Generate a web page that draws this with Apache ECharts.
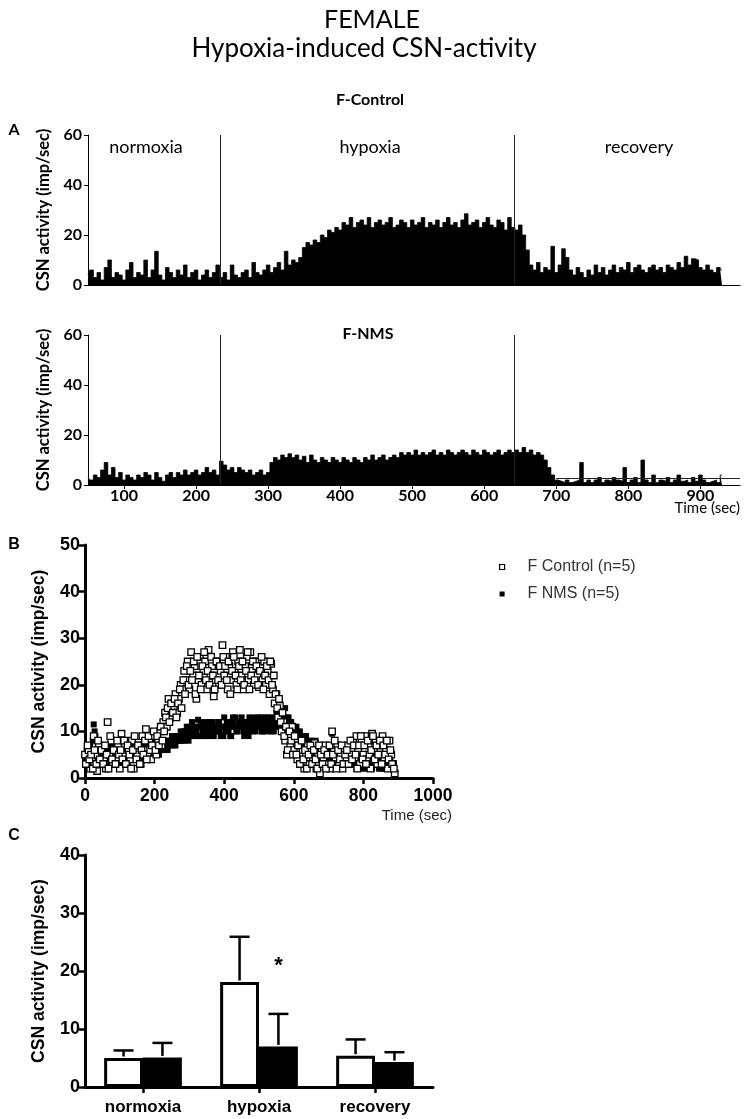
<!DOCTYPE html>
<html><head><meta charset="utf-8">
<script src="https://cdn.jsdelivr.net/npm/echarts@6/dist/echarts.min.js"></script>
<style>html,body{margin:0;padding:0;background:#fff;}#c{width:744px;height:1119px;}</style>
</head><body><div id="c"></div>
<script>
// ---------- Panel A: raw traces (imp/sec), sampled every 5 s from t = 50 s ----------
const traceStart = 50, traceStep = 5;
const controlTrace = [
 4,6,3,5,2,7,10,3,5,4,
 2,6,9,3,5,4,10,3,6,13.5,
 4,2,7,5,3,6,4,8,3,5,
 6,2,4,6,3,5,8,3,5,2,
 8,4,3,5,6,3,9,5,4,6,
 8,5,7,9,6,13.5,8,10,9,11,
 15,17,16,18,17,20,19,22,21,23,
 22,25,24,27,23,25,26,24,27,23,
 25,26,24,25,27,23,24,26,25,23,
 26,24,25,27,23,25,24,26,23,25,
 27,24,25,23,26,28.5,24,25,26,23,
 25,27,24,23,26,25,22,27,23,22,
 24,20,14,8,6,9,5,7,6,15.5,
 5,8,14.5,11,6,4,7,5,3,6,
 4,8,5,7,4,6,8,5,7,6,
 9,5,7,8,6,5,7,8,6,7,
 5,8,7,6,9,7,11.5,8,10.5,10,
 7,6,8,6,5,7,6
];
const nmsTrace = [
 3,2,4,3,6,9,4,7,3,5,
 2,4,3,2,4,3,5,4,2,5,
 3,1.5,4,5,3,5,4,6,4,5,
 6,4,5,7,5,6,4,9.5,8,6,
 7,5,7,6,5,6,4,5,6,4,
 5,9,11,10,12,11,12.5,11,12,10,
 11.5,9,12,10,9,11,10,9,11,10,
 9,11,10,9,11,10,9,11,10,12,
 10,11,12,10,11,12,11,13,12,13,
 12,14,12,13,12,13,14,12,13,12,
 14,13,12,13,14,13,12,14,13,12,
 14,13,12,13,14,12,13,14,13,14,
 13,15,13,14,12,13,12,10,7,4,
 2,1.5,1,2,1,1.5,2,9,1,2,
 1,2,3,1,2,1.5,3,2,1.5,7,
 1,2,3,1,10,2,1,4,1,2,
 1.5,3,1,2,4,1.5,2,1,3,1.5,
 4,2,1,1.5,2,1,4
];
const phaseNames = ['normoxia', 'hypoxia', 'recovery'];
const phaseBoundaries = [233, 642];           // s
const nmsBaselineLevel = 2.9;                  // horizontal line in F-NMS trace
const nmsBaselineRange = [700, 955];
const traceTickValues = [100, 200, 300, 400, 500, 600, 700, 800, 900];

// ---------- Panel B: averaged activity ----------
// samples at t = 0, 5, 10 ... s
const scatterStart = 0, scatterStep = 5;
const controlMean = [
 5,3,6,2,4,9,5,1.5,7,3,
 6,4,2,12,5,8,3,6,4,7,
 2,9.5,5,7,3,6,4,8,2,6,
 5,7,3,9,6,10.5,5,8,4,7,
 9,5,8,10,7,12,14,11,17,13,
 16,15,18,14,17,20,19,23,21,25,
 19,27,22,24,17,21,26,20,23,25,
 19,27.5,22,24,17.5,21,25,20,23,28.5,
 22,26,19,24,21,27,23,20,25,27.5,
 22,19,24,26,21,27,23,20,25,22,
 19.5,24,21,25,20,23,18,24.5,19,16,
 18,13,15.5,10,12,8,5,9,7,11,
 6,8,4,7,3,6,2,5,7,3,
 6,4,7.5,2,5,1,6,4,7,3,
 5,2,10,6,4,7,3,5,2,6,
 4,7,3,5,8,4,9,6,3,8,
 5,9,4,7,2,9.5,6,8,3,7,
 5,9,4,6,2,8,5,3,1
];
const nmsMean = [
 4,6,3,7,5,11.5,9,4,6,3,
 5,7,4,6,3,5,7,4,6,5,
 3,6,7,4,5,6,4,7,5,6,
 4,7,5,6,5,7,6,5,7,6,
 5,7,6,7,6,8,7,6,8,7,
 9,8,7,9,8,10,9,8,10,9,
 11,10,9,11,10,12.5,9,11,10,12,
 9,11,10,12,9,11,10,12,9,11,
 13,10,12,11,9,13,11,10,12,11,
 13,10,12,11,9,12,11,13,10,12,
 11,13,10,12,11,13,12,10,12,11,
 14,12,11,13,12,15,11,13,12,10,
 11,9,10,8,9,7,8,9,7,6,
 8,6,7,5,6,4,5,7,4,5,
 6,4,9.5,5,3,5,4,3,5,4,
 3,5,4,3,5,4,2,4,5,3,
 4,2,5,3,4,2,4,3,5,2,
 4,3,2,4,3,2,3,2,1
];
// interleaved samples at t = 2.5, 7.5, 12.5 ... s
const scatterStart2 = 2.5;
const controlMean2 = [
 3,7,4,5,2,6,3,8,4,6,
 3,7,5,2,9,4,6,3,8,5,
 6,4,8,3,7,5,2,6,9,4,
 7,3,6,5,8,4,9,6,7,10,
 6,9,7,11,8,10,13,15,12,16,
 14,17,13,16,19,15,21,18,24,20,
 23,21,25,18,26,22,19,24,27,21,
 23,20,26,22,19,25,21,24,20,26,
 24,21,25,18,23,26,22,19,24,21,
 25,20,23,27,19,22,25,21,24,20,
 23,26,19,22,24,21,25,20,22,18,
 15,17,12,14,9,11,6,10,8,5,
 9,5,7,3,8,4,6,2,5,7,
 3,6,4,2,7,5,3,6,2,5,
 7,3,5,8,2,6,4,7,3,5,
 6,3,8,4,7,5,2,7,9,4,
 7,3,8,5,6,9,4,7,5,8,
 3,7,5,8,4,6,3,2
];
const nmsMean2 = [
 5,3,6,4,8,10,5,7,4,6,
 4,6,5,7,4,6,5,3,7,4,
 5,7,4,6,3,7,5,6,4,7,
 6,5,7,4,6,5,7,6,5,8,
 6,7,5,8,6,7,8,6,7,8,
 8,7,9,8,9,8,10,9,11,8,
 10,12,9,10,11,9,12,10,9,11,
 10,12,9,11,10,11,12,10,11,9,
 11,12,10,9,12,11,13,10,11,12,
 11,9,12,10,13,11,10,12,11,13,
 12,10,11,13,10,12,11,13,10,12,
 12,13,11,12,10,13,12,11,12,11,
 10,11,8,10,7,9,8,6,8,7,
 7,5,8,6,5,7,4,6,5,6,
 5,3,6,4,5,3,6,4,3,5,
 4,3,5,4,3,5,3,4,2,4,
 3,5,4,2,4,3,5,3,4,3,
 2,4,3,2,3,4,2,2
];
const seriesNames = ['F Control (n=5)', 'F NMS (n=5)'];

// ---------- Panel C: mean + SD ----------
const categories = ['normoxia', 'hypoxia', 'recovery'];
const controlBar = [5.0, 18.1, 5.4];
const controlErr = [1.3, 7.8, 2.8];
const nmsBar = [5.1, 7.0, 4.3];
const nmsErr = [2.5, 5.6, 1.7];
const significance = ['', '*', ''];

const toPairs = (arr, start, step) => arr.map((v, i) => [start + i * step, v]);

const calibri = 'Lato';
const arial = 'Liberation Sans';
const blk = '#000';

function traceYAxis(grid) {
  return {
    type: 'value', gridIndex: grid, min: 0, max: 60, interval: 20,
    axisLine: {show: true, lineStyle: {color: blk, width: 1}},
    axisTick: {show: true, length: 4, lineStyle: {color: blk, width: 1}},
    axisLabel: {fontFamily: calibri, fontWeight: 'bold', fontSize: 16, color: blk, margin: 6},
    splitLine: {show: false},
    name: 'CSN activity (imp/sec)', nameLocation: 'middle', nameGap: 33,
    nameTextStyle: {fontFamily: calibri, fontWeight: 'bold', fontSize: 16.5, color: blk}
  };
}
function boldAxisStyle() {
  return {
    axisLine: {show: true, lineStyle: {color: blk, width: 3}},
    axisTick: {show: true, length: 6, lineStyle: {color: blk, width: 2.5}},
    axisLabel: {fontFamily: arial, fontWeight: 'bold', fontSize: 18, color: blk, margin: 5},
    splitLine: {show: false}
  };
}

const option = {
  animation: false,
  backgroundColor: '#fff',
  grid: [
    {left: 88, right: 4, top: 135, height: 150},
    {left: 88, right: 4, top: 335, height: 150},
    {left: 85, width: 348, top: 545, height: 233},
    {left: 85, width: 348, top: 855, height: 232}
  ],
  xAxis: [
    {type: 'value', gridIndex: 0, min: 50, max: 955,
     axisLine: {show: true, lineStyle: {color: blk, width: 1}},
     axisTick: {show: false}, axisLabel: {show: false}, splitLine: {show: false}},
    {type: 'value', gridIndex: 1, min: 50, max: 955,
     axisLine: {show: true, lineStyle: {color: blk, width: 1}},
     axisTick: {show: true, length: 4, customValues: traceTickValues, lineStyle: {color: blk}},
     axisLabel: {customValues: traceTickValues, fontFamily: calibri, fontWeight: 'bold', fontSize: 16, color: blk, margin: 3},
     splitLine: {show: false}},
    Object.assign({type: 'value', gridIndex: 2, min: 0, max: 1000, interval: 200}, boldAxisStyle(),
      {axisLabel: {fontFamily: arial, fontWeight: 'bold', fontSize: 17.5, color: blk, margin: 9,
        formatter: function (v) { return String(v); }}}),
    Object.assign({type: 'category', gridIndex: 3, data: categories}, boldAxisStyle(),
      {axisTick: {show: true, alignWithLabel: true, length: 6, lineStyle: {color: blk, width: 2.5}},
       axisLabel: {fontFamily: arial, fontWeight: 'bold', fontSize: 17, color: blk, margin: 12}})
  ],
  yAxis: [
    traceYAxis(0),
    traceYAxis(1),
    Object.assign({type: 'value', gridIndex: 2, min: 0, max: 50, interval: 10,
      name: 'CSN activity (imp/sec)', nameLocation: 'middle', nameGap: 37,
      nameTextStyle: {fontFamily: arial, fontWeight: 'bold', fontSize: 17.5, color: blk}}, boldAxisStyle()),
    Object.assign({type: 'value', gridIndex: 3, min: 0, max: 40, interval: 10,
      name: 'CSN activity (imp/sec)', nameLocation: 'middle', nameGap: 37,
      nameTextStyle: {fontFamily: arial, fontWeight: 'bold', fontSize: 17.5, color: blk}}, boldAxisStyle())
  ],
  legend: {
    orient: 'vertical', left: 494, top: 554, itemWidth: 5, itemHeight: 5, itemGap: 11,
    selectedMode: false,
    textStyle: {fontFamily: arial, fontSize: 16, color: '#333', padding: [0, 0, 0, 18]},
    data: [
      {name: seriesNames[0], icon: 'rect', itemStyle: {color: '#fff', borderColor: blk, borderWidth: 1.2, opacity: 1}},
      {name: seriesNames[1], icon: 'rect', itemStyle: {color: blk, borderWidth: 0, opacity: 1}}
    ]
  },
  series: [
    {type: 'line', xAxisIndex: 0, yAxisIndex: 0, showSymbol: false, silent: true, step: 'middle',
     data: toPairs(controlTrace, traceStart, traceStep),
     lineStyle: {color: blk, width: 0.8}, areaStyle: {color: blk, opacity: 1},
     markLine: {
       silent: true, symbol: 'none', label: {show: false},
       lineStyle: {color: '#222', width: 1, type: 'solid'},
       data: phaseBoundaries.map(t => ({xAxis: t}))
     }},
    {type: 'line', xAxisIndex: 1, yAxisIndex: 1, showSymbol: false, silent: true, step: 'middle',
     data: toPairs(nmsTrace, traceStart, traceStep),
     lineStyle: {color: blk, width: 0.8}, areaStyle: {color: blk, opacity: 1},
     markLine: {
       silent: true, symbol: 'none', label: {show: false},
       lineStyle: {color: '#222', width: 1, type: 'solid'},
       data: phaseBoundaries.map(t => ({xAxis: t})).concat([[
         {coord: [nmsBaselineRange[0], nmsBaselineLevel]},
         {coord: [nmsBaselineRange[1], nmsBaselineLevel]}
       ]])
     }},
    {name: seriesNames[1], type: 'scatter', xAxisIndex: 2, yAxisIndex: 2,
     symbol: 'rect', symbolSize: 6,
     data: toPairs(nmsMean, scatterStart, scatterStep).concat(toPairs(nmsMean2, scatterStart2, scatterStep)),
     itemStyle: {color: blk, opacity: 1}},
    {name: seriesNames[0], type: 'scatter', xAxisIndex: 2, yAxisIndex: 2,
     symbol: 'rect', symbolSize: 6.5,
     data: toPairs(controlMean, scatterStart, scatterStep).concat(toPairs(controlMean2, scatterStart2, scatterStep)),
     itemStyle: {color: '#fff', borderColor: blk, borderWidth: 1.3, opacity: 1}},
    {type: 'bar', xAxisIndex: 3, yAxisIndex: 3, data: controlBar,
     barCategoryGap: '33%', barGap: '0%',
     itemStyle: {color: '#fff', borderColor: blk, borderWidth: 3}},
    {type: 'bar', xAxisIndex: 3, yAxisIndex: 3, data: nmsBar,
     barCategoryGap: '33%', barGap: '0%',
     itemStyle: {color: blk, borderColor: blk, borderWidth: 3}},
    {type: 'custom', xAxisIndex: 3, yAxisIndex: 3, z: 5,
     data: categories.map((c, i) => [i, controlBar[i], controlErr[i], nmsBar[i], nmsErr[i]]),
     renderItem: function (params, api) {
       const i = api.value(0);
       const band = api.size([1, 0])[0];
       const off = band * 0.67 / 4;
       const children = [];
       const pairs = [[api.value(1), api.value(2), -off], [api.value(3), api.value(4), off]];
       let nmsTop = null;
       pairs.forEach(function (p, k) {
         const base = api.coord([i, p[0]]);
         const top = api.coord([i, p[0] + p[1]]);
         const x = base[0] + p[2];
         if (k === 1) nmsTop = [x, top[1]];
         children.push({type: 'line', shape: {x1: x, y1: base[1] - 1.5, x2: x, y2: top[1]}, style: {stroke: blk, lineWidth: 2.5}});
         children.push({type: 'line', shape: {x1: x - 10, y1: top[1], x2: x + 10, y2: top[1]}, style: {stroke: blk, lineWidth: 2.5}});
       });
       const sig = significance[params.dataIndex];
       if (sig) {
         children.push({type: 'text', x: nmsTop[0], y: nmsTop[1] - 48,
           style: {text: sig, font: 'bold 22px ' + arial, fill: blk, align: 'center', verticalAlign: 'middle'}});
       }
       return {type: 'group', children: children};
     }}
  ],
  graphic: [
    {type: 'text', x: 372, y: 20, style: {text: 'FEMALE', font: '25px ' + calibri, fill: blk, align: 'center', verticalAlign: 'middle'}},
    {type: 'text', x: 364, y: 49, style: {text: 'Hypoxia-induced CSN-activity', font: '26px ' + calibri, fill: blk, align: 'center', verticalAlign: 'middle'}},
    {type: 'text', x: 370, y: 100, style: {text: 'F-Control', font: 'bold 16px ' + calibri, fill: blk, align: 'center', verticalAlign: 'middle'}},
    {type: 'text', x: 368, y: 334, style: {text: 'F-NMS', font: 'bold 16px ' + calibri, fill: blk, align: 'center', verticalAlign: 'middle'}},
    {type: 'text', x: 14, y: 130, style: {text: 'A', font: 'bold 16px ' + calibri, fill: blk, align: 'center', verticalAlign: 'middle'}},
    {type: 'text', x: 14, y: 545, style: {text: 'B', font: 'bold 16px ' + arial, fill: blk, align: 'center', verticalAlign: 'middle'}},
    {type: 'text', x: 14, y: 836, style: {text: 'C', font: 'bold 16px ' + arial, fill: blk, align: 'center', verticalAlign: 'middle'}},
    {type: 'text', x: 146, y: 147, style: {text: phaseNames[0], font: '18px ' + calibri, fill: blk, align: 'center', verticalAlign: 'middle'}},
    {type: 'text', x: 370, y: 147, style: {text: phaseNames[1], font: '18px ' + calibri, fill: blk, align: 'center', verticalAlign: 'middle'}},
    {type: 'text', x: 639, y: 147, style: {text: phaseNames[2], font: '18px ' + calibri, fill: blk, align: 'center', verticalAlign: 'middle'}},
    {type: 'text', x: 740, y: 508, style: {text: 'Time (sec)', font: '15px ' + calibri, fill: blk, align: 'right', verticalAlign: 'middle'}},
    {type: 'text', x: 452, y: 816, style: {text: 'Time (sec)', font: '15px ' + arial, fill: '#222', align: 'right', verticalAlign: 'middle'}}
  ]
};

const chart = echarts.init(document.getElementById('c'), null, {renderer: 'canvas'});
chart.setOption(option);
</script>
</body></html>
